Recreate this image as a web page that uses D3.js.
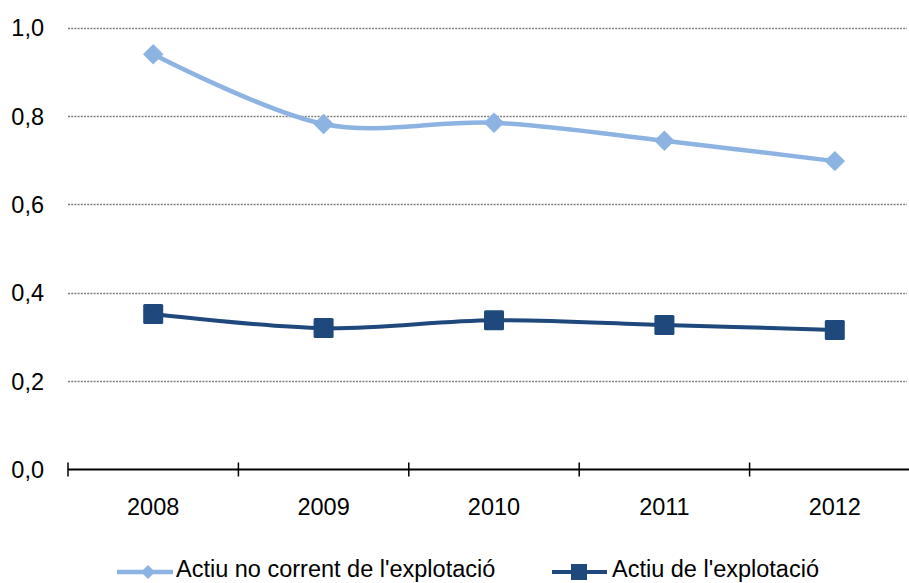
<html>

<head>
    <title>Actiu</title>
    <script src="https://d3js.org/d3.v7.min.js"></script>
    <style>
        body { margin: 0; background: #fff; }
        text { font-family: "Liberation Sans", Arial, sans-serif; fill: #000; }
    </style>
</head>

<body>
    <div id="chart"></div>
    <script type="text/javascript">
    // chart data
    var years = ["2008", "2009", "2010", "2011", "2012"];
    var actiuNoCorrent = [0.94, 0.782, 0.785, 0.744, 0.698];
    var actiuExplotacio = [0.352, 0.320, 0.338, 0.327, 0.316];
    var yTicks = [0, 0.2, 0.4, 0.6, 0.8, 1.0];
    var seriesNames = ["Actiu no corrent de l'explotació", "Actiu de l'explotació"];

    var width = 909,
        height = 583;

    var svg = d3.select("#chart").append("svg")
        .attr("width", width)
        .attr("height", height);

    var xScale = d3.scaleBand().domain(years).range([68, 920]);
    var yScale = d3.scaleLinear().domain([0, 1]).range([469.5, 27.7]);

    // dotted gridlines
    svg.selectAll(".grid")
        .data(yTicks.slice(1))
        .enter()
        .append("line")
        .attr("class", "grid")
        .attr("x1", 68)
        .attr("x2", width - 2)
        .attr("y1", function(d) { return Math.round(yScale(d)) + 0.5; })
        .attr("y2", function(d) { return Math.round(yScale(d)) + 0.5; })
        .attr("stroke", "#7f7f7f")
        .attr("stroke-width", 1.3)
        .attr("stroke-dasharray", "2,1.2");

    // y labels
    svg.selectAll(".ylabel")
        .data(yTicks)
        .enter()
        .append("text")
        .attr("class", "ylabel")
        .attr("x", 44)
        .attr("y", function(d) { return yScale(d); })
        .attr("dy", "0.36em")
        .attr("text-anchor", "end")
        .style("font-size", "23.5px")
        .text(function(d) { return d3.format(".1f")(d).replace(".", ","); });

    // x axis with ticks between the categories
    var xAxis = svg.append("g")
        .attr("transform", "translate(0," + yScale(0) + ")");
    xAxis.append("line")
        .attr("x1", 68)
        .attr("x2", width)
        .attr("stroke", "#000")
        .attr("stroke-width", 2);
    xAxis.selectAll(".tick")
        .data(years)
        .enter()
        .append("line")
        .attr("class", "tick")
        .attr("x1", function(d) { return xScale(d); })
        .attr("x2", function(d) { return xScale(d); })
        .attr("y1", -7)
        .attr("y2", 7)
        .attr("stroke", "#000")
        .attr("stroke-width", 1.5);
    xAxis.selectAll(".xlabel")
        .data(years)
        .enter()
        .append("text")
        .attr("class", "xlabel")
        .attr("x", function(d) { return xScale(d) + xScale.bandwidth() / 2; })
        .attr("y", 45)
        .attr("text-anchor", "middle")
        .style("font-size", "23.5px")
        .text(function(d) { return d; });

    var cx = function(d, i) { return xScale(years[i]) + xScale.bandwidth() / 2; };

    var line = d3.line()
        .x(cx)
        .y(function(d) { return yScale(d); })
        .curve(d3.curveCatmullRom.alpha(0));

    // light series with diamonds
    svg.append("path")
        .attr("d", line(actiuNoCorrent))
        .attr("fill", "none")
        .attr("stroke", "#8db3e2")
        .attr("stroke-width", 4.5)
        .attr("stroke-linejoin", "round");

    svg.selectAll(".diamond")
        .data(actiuNoCorrent)
        .enter()
        .append("path")
        .attr("class", "diamond")
        .attr("d", d3.symbol().type(d3.symbolSquare).size(210))
        .attr("transform", function(d, i) { return "translate(" + cx(d, i) + "," + yScale(d) + ") rotate(45)"; })
        .attr("fill", "#8db3e2");

    // dark series with squares
    svg.append("path")
        .attr("d", line(actiuExplotacio))
        .attr("fill", "none")
        .attr("stroke", "#1f497d")
        .attr("stroke-width", 4)
        .attr("stroke-linejoin", "round");

    svg.selectAll(".square")
        .data(actiuExplotacio)
        .enter()
        .append("rect")
        .attr("class", "square")
        .attr("x", function(d, i) { return cx(d, i) - 10; })
        .attr("y", function(d) { return yScale(d) - 10; })
        .attr("width", 20)
        .attr("height", 20)
        .attr("rx", 1.5)
        .attr("fill", "#1f497d");

    // legend
    var legend = svg.append("g").attr("transform", "translate(0,572)");
    legend.append("line")
        .attr("x1", 117).attr("x2", 173)
        .attr("stroke", "#8db3e2").attr("stroke-width", 4.5);
    legend.append("path")
        .attr("d", d3.symbol().type(d3.symbolSquare).size(100))
        .attr("transform", "translate(148,0) rotate(45)")
        .attr("fill", "#8db3e2");
    legend.append("text")
        .attr("x", 176).attr("y", 5)
        .style("font-size", "23.5px")
        .text(seriesNames[0]);

    legend.append("line")
        .attr("x1", 552).attr("x2", 607)
        .attr("stroke", "#1f497d").attr("stroke-width", 4);
    legend.append("rect")
        .attr("x", 571).attr("y", -8)
        .attr("width", 16).attr("height", 16)
        .attr("fill", "#1f497d");
    legend.append("text")
        .attr("x", 612).attr("y", 5)
        .style("font-size", "23.5px")
        .text(seriesNames[1]);
    </script>
</body>

</html>
